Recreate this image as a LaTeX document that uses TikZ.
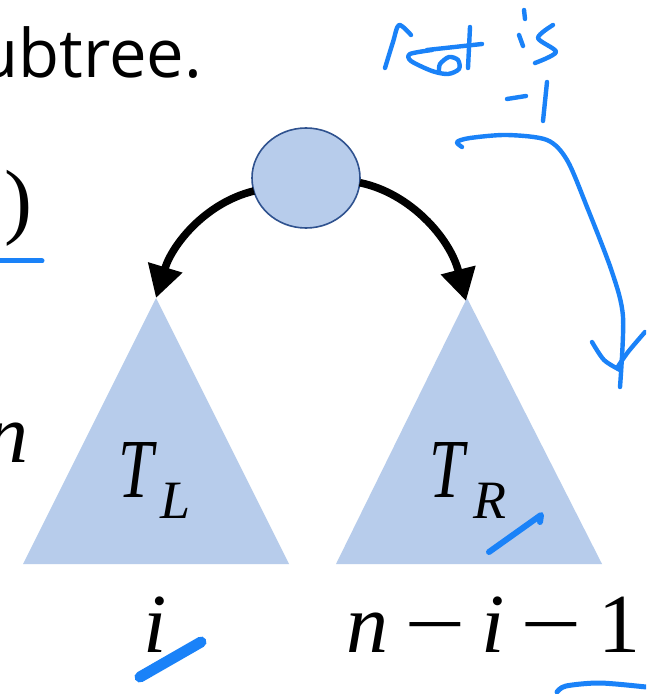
\documentclass[tikz,border=0pt]{standalone}
\usepackage{fontspec}
\setmainfont{Liberation Serif}
\newfontfamily\serifm{Liberation Serif}
\newfontfamily\sansf{Open Sans}
\usetikzlibrary{arrows.meta,shapes.geometric}
\definecolor{fillblue}{RGB}{183,204,235}
\definecolor{edgeblue}{RGB}{47,82,143}
\definecolor{ink}{RGB}{26,130,248}
\newcommand{\longminus}{\scalebox{1.3}[1]{−}}
\begin{document}
\begin{tikzpicture}[x=0.5pt,y=-0.5pt,
  tri/.style={fill=fillblue},
  rootnode/.style={ellipse, fill=fillblue, draw=edgeblue, line width=0.8pt, minimum width=54pt, minimum height=50pt, inner sep=0pt, outer sep=0pt},
  edgearrow/.style={line width=3.8pt, -{Triangle[length=16pt,width=17pt]}},
  inkline/.style={draw=ink, line width=2.2pt, line cap=round, line join=round},
  lbl/.style={inner sep=0pt, outer sep=0pt, font=\serifm\fontsize{42}{42}\selectfont}]
\useasboundingbox (0,0) rectangle (646,694);
\clip (0,0) rectangle (646,694);
\fill[white] (0,0) rectangle (646,694);

% subtrees
\fill[tri] (23,564) -- (156,298) -- (289,564) -- cycle;
\fill[tri] (336,564) -- (467,298) -- (602,564) -- cycle;
\coordinate (apexL) at (156,298);
\coordinate (apexR) at (466,301);

% root
\node[rootnode] (root) at (306,178) {};

% edges
\draw[edgearrow] (root.194) .. controls (205,203) and (172,245) .. (apexL);
\draw[edgearrow] (root.-5) .. controls (410,193) and (450,238) .. (apexR);

% texts
\node[inner sep=0pt, outer sep=0pt, anchor=base east, font=\sansf\fontsize{33.5}{34}\selectfont] (title) at (202,78) {ubtree.};
\node[lbl, anchor=base west] (paren) at (4,229) {)};
\node[lbl, anchor=base west] (nleft) at (-13,462) {\itshape n};
\node[lbl, anchor=base west] (TL) at (118,497) {\itshape\scalebox{0.75}[1]{T}\hspace{3.5pt}\raisebox{-10.5pt}{\fontsize{27}{27}\selectfont L}};
\node[lbl, anchor=base west] (TR) at (429,497) {\itshape\scalebox{0.75}[1]{T}\hspace{4.5pt}\raisebox{-10.5pt}{\fontsize{27}{27}\selectfont R}};
\node[lbl, anchor=base west] (ilbl) at (143,652) {\itshape i};
\node[lbl, anchor=base west] (nlbl) at (346,652) {\textit{n}\hspace{8pt}\longminus\hspace{8pt}\textit{i}\hspace{8pt}\longminus\hspace{8pt}1};

% ink annotations
\draw[inkline, line width=2.5pt] (0,261) -- (42,261);
\draw[inkline, line width=5.5pt] (140,677) -- (201,642);
\draw[inkline, line width=3pt] (489,552) -- (541,515) -- (540,522);
\draw[inkline, line width=2.5pt] plot[smooth] coordinates {(557,692) (566,686) (600,683) (646,687)};

% handwriting "root is -1"
\draw[inkline] plot[smooth] coordinates {(385,68) (393,42) (399,25) (411,35)};
\draw[inkline] plot[smooth] coordinates {(432,50) (410,54) (411,61) (432,71) (448,74) (459,69) (458,60) (449,57) (440,64) (439,72)};
\draw[inkline] (470,27) -- (468,68);
\draw[inkline] (427,50) -- (482,44);
\draw[inkline] (524,10) -- (525,19);
\draw[inkline] (519,35) -- (523,46);
\draw[inkline] plot[smooth] coordinates {(553,25) (538,38) (556,52) (535,63)};
\draw[inkline] (507,99) -- (526,96);
\draw[inkline] (547,82) -- (543,121);

% long annotation arrow
\draw[inkline] plot[smooth] coordinates {(462,147) (457,142) (470,138) (507,135) (547,140) (567,160) (587,207) (612,272) (623,317) (620,387)};
\draw[inkline] plot[smooth] coordinates {(592,342) (604,360) (620,370)};
\draw[inkline] plot[smooth] coordinates {(645,332) (628,352) (617,368)};
\end{tikzpicture}
\end{document}
